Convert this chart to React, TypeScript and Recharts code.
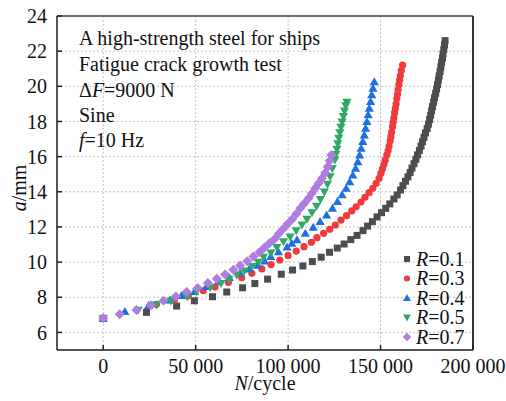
import React from "react";
import {
  ScatterChart,
  Scatter,
  XAxis,
  YAxis,
  CartesianGrid,
  ReferenceLine,
  Legend,
} from "recharts";

// [N (cycles), a (mm)]
const r01: [number, number][] = [
  [0, 6.8], [23400, 7.14], [39700, 7.5], [49300, 7.8], [59100, 8.03], [66800, 8.3],
  [75400, 8.54], [82000, 8.78], [88900, 9.03], [96300, 9.31], [102400, 9.55], [108000, 9.78],
  [113100, 10.03], [117900, 10.28], [122400, 10.56], [126600, 10.8], [130300, 11.03],
  [133900, 11.28], [137300, 11.52], [140500, 11.79], [143000, 12.05], [145600, 12.3],
  [148100, 12.57], [150500, 12.81], [152800, 13.06], [155000, 13.31], [157200, 13.59],
  [159000, 13.82], [160800, 14.1], [162100, 14.35], [163500, 14.6], [164800, 14.85],
  [166000, 15.1], [167000, 15.35], [168100, 15.6], [169100, 15.85], [170000, 16.1],
  [171000, 16.35], [171900, 16.6], [172700, 16.85], [173500, 17.1], [174300, 17.35],
  [175200, 17.6], [175900, 17.85], [176500, 18.1], [177100, 18.35], [177600, 18.6],
  [178100, 18.85], [178700, 19.1], [179200, 19.35], [179800, 19.6], [180300, 19.85],
  [180800, 20.1], [181300, 20.35], [181700, 20.6], [182200, 20.85], [182600, 21.1],
  [183000, 21.35], [183500, 21.6], [183800, 21.85], [184200, 22.1], [184600, 22.35],
  [184900, 22.6],
];

const r03: [number, number][] = [
  [0, 6.8], [28800, 7.6], [38500, 7.84], [46000, 8.08], [54100, 8.37], [60500, 8.58],
  [67700, 8.84], [74900, 9.11], [80400, 9.36], [85800, 9.61], [90800, 9.86], [95500, 10.12],
  [100000, 10.38], [104400, 10.63], [108600, 10.88], [112600, 11.13], [115600, 11.39],
  [119200, 11.64], [122500, 11.87], [125500, 12.11], [128600, 12.39], [131600, 12.64],
  [134400, 12.91], [136800, 13.15], [139400, 13.42], [141600, 13.69], [143800, 13.95],
  [145800, 14.2], [147600, 14.48], [149200, 14.77], [150200, 15.05], [151000, 15.3],
  [151800, 15.55], [152500, 15.8], [153400, 16.1], [154100, 16.35], [154600, 16.6],
  [155200, 16.9], [155600, 17.15], [156000, 17.4], [156500, 17.7], [156800, 17.95],
  [157200, 18.2], [157600, 18.5], [158000, 18.75], [158400, 19.0], [158800, 19.3],
  [159200, 19.55], [159500, 19.8], [159900, 20.1], [160300, 20.35], [160700, 20.6],
  [161200, 20.9], [161900, 21.2],
];

const r04: [number, number][] = [
  [0, 6.8], [11700, 7.18], [24500, 7.52], [36100, 7.84], [42400, 8.1], [49400, 8.32],
  [55800, 8.6], [62300, 8.89], [68200, 9.12], [74000, 9.38], [79000, 9.6], [83600, 9.82],
  [87300, 10.06], [90600, 10.31], [94800, 10.59], [99400, 10.86], [102000, 11.06],
  [104800, 11.26], [109300, 11.64], [113600, 11.98], [117300, 12.3], [120800, 12.68],
  [124000, 13.06], [126700, 13.44], [129200, 13.82], [131400, 14.2], [133300, 14.57],
  [135000, 14.95], [136500, 15.33], [137700, 15.71], [138700, 16.09], [139500, 16.47],
  [140400, 16.85], [141200, 17.23], [141900, 17.61], [142600, 17.99], [143300, 18.37],
  [143900, 18.75], [144600, 19.13], [145200, 19.51], [145900, 19.89], [146600, 20.26],
];

const r05: [number, number][] = [
  [0, 6.8], [18900, 7.27], [28800, 7.56], [36600, 7.79], [45400, 8.03], [50500, 8.32],
  [57800, 8.54], [63700, 8.79], [68000, 9.03], [72200, 9.27], [76400, 9.5], [80400, 9.76],
  [83800, 10.0], [86700, 10.28], [90700, 10.53], [93900, 10.84], [97500, 11.16],
  [101100, 11.44], [104400, 11.79], [107500, 12.11], [110200, 12.45], [112900, 12.81],
  [115400, 13.19], [117500, 13.57], [119600, 14.0], [121300, 14.44], [122700, 14.86],
  [123900, 15.33], [125300, 15.81], [125800, 16.12], [126400, 16.43], [126900, 16.74],
  [127400, 17.05], [128000, 17.36], [128600, 17.67], [129200, 17.98], [129900, 18.29],
  [130500, 18.6], [131200, 18.9], [131800, 19.1],
];

const r07: [number, number][] = [
  [0, 6.8], [8900, 7.03], [18000, 7.27], [25700, 7.54], [32600, 7.8], [39300, 8.05],
  [45100, 8.3], [51100, 8.53], [56600, 8.81], [61400, 9.05], [65900, 9.3], [70400, 9.57],
  [74000, 9.81], [77900, 10.05], [81200, 10.32], [84500, 10.56], [87100, 10.81],
  [89900, 11.07], [92600, 11.3], [94800, 11.6], [97200, 11.87], [99700, 12.17],
  [102100, 12.43], [104400, 12.74], [106600, 13.06], [108700, 13.34], [111100, 13.63],
  [112900, 13.91], [114700, 14.2], [116500, 14.48], [118300, 14.77], [120100, 15.09],
  [121400, 15.43], [122500, 15.77], [123400, 16.09],
];

const xTicks = [0, 50000, 100000, 150000, 200000];
const yTicks = [6, 8, 10, 12, 14, 16, 18, 20, 22, 24];
const rValues = ["0.1", "0.3", "0.4", "0.5", "0.7"];
const infoLines = ["A high-strength steel for ships", "Fatigue crack growth test", "ΔF=9000 N", "Sine", "f=10 Hz"];

const colors = ["#4d4d4d", "#ef3b3b", "#1d6fe3", "#2fa865", "#b07ddf"];
const FONT = "'Liberation Serif', 'Times New Roman', serif";

const toPts = (arr: [number, number][]) => arr.map(([n, a]) => ({ n, a }));

function marker(kind: number, cx: number, cy: number, s = 1) {
  const c = colors[kind];
  if (kind === 0) return <rect x={cx - 3.5 * s} y={cy - 3.5 * s} width={7 * s} height={7 * s} fill={c} />;
  if (kind === 1) return <circle cx={cx} cy={cy} r={3.6 * s} fill={c} />;
  if (kind === 2)
    return <polygon points={`${cx},${cy - 4.6 * s} ${cx - 4.6 * s},${cy + 3.4 * s} ${cx + 4.6 * s},${cy + 3.4 * s}`} fill={c} />;
  if (kind === 3)
    return <polygon points={`${cx - 4.6 * s},${cy - 3.4 * s} ${cx + 4.6 * s},${cy - 3.4 * s} ${cx},${cy + 4.6 * s}`} fill={c} />;
  return <polygon points={`${cx},${cy - 5 * s} ${cx + 5 * s},${cy} ${cx},${cy + 5 * s} ${cx - 5 * s},${cy}`} fill={c} />;
}

const shapeFor = (kind: number) => (p: any) => marker(kind, p.cx, p.cy);

const fmtX = (v: number) => (v === 0 ? "0" : `${v / 1000} 000`);

function LegendBox() {
  return (
    <svg width={75} height={100} style={{ fontFamily: FONT, fontSize: 20 }}>
      {rValues.map((r, i) => {
        const cy = 12 + i * 19.5;
        return (
          <g key={r}>
            {marker(i, 9, cy, 0.85)}
            <text x={18} y={cy + 6.8} fill="#111">
              <tspan fontStyle="italic">R</tspan>={r}
            </text>
          </g>
        );
      })}
    </svg>
  );
}

export default function App() {
  const series = [r01, r03, r04, r05, r07];
  return (
    <div style={{ position: "absolute", left: 0, top: 0, width: 506, height: 401, background: "#fff", fontFamily: FONT }}>
      <ScatterChart width={506} height={401} margin={{ top: 16, right: 33, bottom: 0, left: 0 }}>
        <CartesianGrid stroke="#c4c4c4" strokeDasharray="2 2" />
        <XAxis
          type="number"
          dataKey="n"
          domain={[-25000, 200000]}
          ticks={xTicks}
          tickFormatter={fmtX}
          allowDataOverflow
          height={51}
          tickSize={-5}
          tickMargin={13.5}
          axisLine={{ stroke: "#222", strokeWidth: 1.5 }}
          tickLine={{ stroke: "#222", strokeWidth: 1.5 }}
          tick={{ fill: "#111", fontSize: 20, fontFamily: FONT }}
        />
        <YAxis
          type="number"
          dataKey="a"
          domain={[5, 24]}
          ticks={yTicks}
          allowDataOverflow
          width={57}
          tickSize={-5}
          tickMargin={15}
          axisLine={{ stroke: "#222", strokeWidth: 1.5 }}
          tickLine={{ stroke: "#222", strokeWidth: 1.5 }}
          tick={{ fill: "#111", fontSize: 20, fontFamily: FONT }}
        />
        <ReferenceLine y={24} stroke="#444" strokeWidth={1.5} />
        <ReferenceLine x={200000} stroke="#333" strokeWidth={2} />
        {series.map((s, i) => (
          <Scatter
            key={rValues[i]}
            name={`R=${rValues[i]}`}
            data={toPts(s)}
            fill={colors[i]}
            shape={shapeFor(i)}
            isAnimationActive={false}
          />
        ))}
        <Legend
          layout="vertical"
          align="center"
          verticalAlign="middle"
          wrapperStyle={{ left: 398, top: 247, width: 75, height: 100 }}
          content={() => <LegendBox />}
        />
      </ScatterChart>
      <svg
        width={506}
        height={401}
        style={{ position: "absolute", left: 0, top: 0, pointerEvents: "none", fontFamily: FONT, fontSize: 20 }}
      >
        <text x={79} y={45.3} fill="#111">{infoLines[0]}</text>
        <text x={79} y={71} fill="#111">{infoLines[1]}</text>
        <text x={79} y={96.5} fill="#111">
          Δ<tspan fontStyle="italic">F</tspan>=9000 N
        </text>
        <text x={79} y={121.5} fill="#111">{infoLines[3]}</text>
        <text x={79} y={146.5} fill="#111">
          <tspan fontStyle="italic">f</tspan>=10 Hz
        </text>
        <text x={265} y={390} textAnchor="middle" fill="#111">
          <tspan fontStyle="italic">N</tspan>/cycle
        </text>
        <text transform="translate(26,188) rotate(-90)" textAnchor="middle" fill="#111">
          <tspan fontStyle="italic">a</tspan>/mm
        </text>
      </svg>
    </div>
  );
}
